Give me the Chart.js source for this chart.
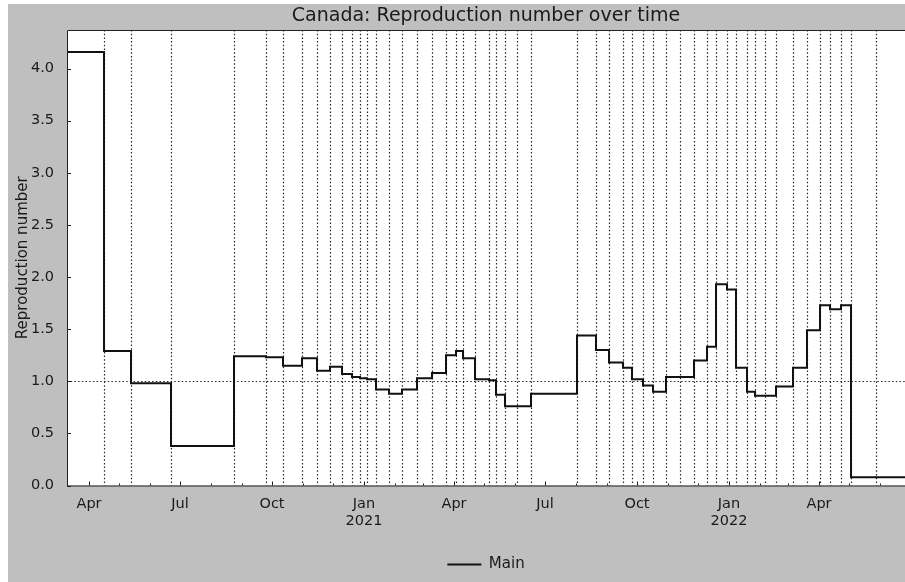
<!DOCTYPE html>
<html>
<head>
<meta charset="utf-8">
<title>Canada: Reproduction number over time</title>
<script src="https://cdn.jsdelivr.net/npm/chart.js@4.4.1/dist/chart.umd.min.js"></script>
<style>
  html, body { margin: 0; padding: 0; background: #ffffff; }
  body { width: 905px; height: 582px; overflow: hidden; position: relative; }
  #wrap { position: absolute; left: 8px; top: 4px; width: 897px; height: 578px; background: #bfbfbf; }
  canvas { display: block; }
</style>
</head>
<body>
<div id="wrap"><canvas id="c" width="897" height="578"></canvas></div>
<script>
// Dates at which the estimated reproduction number changes; each value holds until the next date.
const changeDates = [
  '2020-03-10', '2020-04-16', '2020-05-13', '2020-06-22', '2020-08-24', '2020-09-25',
  '2020-10-12', '2020-10-31', '2020-11-15', '2020-11-28', '2020-12-10', '2020-12-20',
  '2020-12-28', '2021-01-04', '2021-01-13', '2021-01-26', '2021-02-08', '2021-02-23',
  '2021-03-10', '2021-03-24', '2021-04-03', '2021-04-10', '2021-04-22', '2021-05-06',
  '2021-05-13', '2021-05-22', '2021-06-03', '2021-06-17', '2021-08-02', '2021-08-21',
  '2021-09-03', '2021-09-17', '2021-09-26', '2021-10-07', '2021-10-17', '2021-10-30',
  '2021-11-13', '2021-11-27', '2021-12-10', '2021-12-19', '2021-12-30', '2022-01-08',
  '2022-01-19', '2022-01-27', '2022-02-06', '2022-02-17', '2022-03-06', '2022-03-20',
  '2022-04-02', '2022-04-12', '2022-04-23', '2022-05-03', '2022-05-28'
];
const rValues = [
  4.16, 1.29, 0.98, 0.38, 1.24, 1.23,
  1.15, 1.22, 1.10, 1.14, 1.07, 1.04,
  1.03, 1.02, 0.92, 0.88, 0.92, 1.03,
  1.08, 1.25, 1.29, 1.22, 1.02, 1.01,
  0.87, 0.76, 0.76, 0.88, 1.44, 1.30,
  1.18, 1.13, 1.02, 0.96, 0.90, 1.04,
  1.04, 1.20, 1.33, 1.93, 1.88, 1.13,
  0.90, 0.86, 0.86, 0.95, 1.13, 1.49,
  1.73, 1.69, 1.73, 0.08, 0.08
];
const endDate = '2022-06-26';
const thresholdR = 1.0;

// Axis labelling
const monthLabels = ['Jan', '', '', 'Apr', '', '', 'Jul', '', '', 'Oct', '', ''];
const yTicks = [0.0, 0.5, 1.0, 1.5, 2.0, 2.5, 3.0, 3.5, 4.0];
const yMax = 4.37;
const seriesName = 'Main';
const FONT = 'DejaVu Sans';

// Day number (days since 1970-01-01, UTC) for an ISO date string
const toDay = s => Date.UTC(+s.slice(0, 4), +s.slice(5, 7) - 1, +s.slice(8, 10)) / 864e5;
const fromDay = d => new Date(d * 864e5);

const points = changeDates.map((d, i) => ({ x: toDay(d), y: rValues[i] }));
points.push({ x: toDay(endDate), y: rValues[rValues.length - 1] });

// Month starts within the visible range
function monthStarts(min, max) {
  const out = [];
  const s = fromDay(min);
  let y = s.getUTCFullYear(), m = s.getUTCMonth() + 1;
  for (;;) {
    if (m > 11) { m = 0; y++; }
    const v = Date.UTC(y, m, 1) / 864e5;
    if (v > max) break;
    if (v >= min) out.push(v);
    m++;
  }
  return out;
}

const frame = {
  id: 'frame',
  beforeDraw(chart) {
    const { ctx, chartArea: a } = chart;
    ctx.save();
    ctx.fillStyle = '#ffffff';
    ctx.fillRect(a.left, a.top, a.right - a.left, a.bottom - a.top);
    ctx.restore();
  },
  beforeDatasetsDraw(chart) {
    const { ctx, chartArea: a, scales: { x, y } } = chart;
    ctx.save();
    ctx.beginPath();
    ctx.rect(a.left, a.top, a.right - a.left, a.bottom - a.top);
    ctx.clip();
    ctx.strokeStyle = 'rgba(0,0,0,0.85)';
    ctx.lineWidth = 1.2;
    ctx.setLineDash([1.5, 2.2]);
    // change-point markers
    changeDates.slice(1).forEach(d => {
      const px = Math.round(x.getPixelForValue(toDay(d))) + 0.5;
      ctx.beginPath();
      ctx.moveTo(px, a.top);
      ctx.lineTo(px, a.bottom);
      ctx.stroke();
    });
    // R = 1 reference line
    const py = Math.round(y.getPixelForValue(thresholdR)) + 0.5;
    ctx.beginPath();
    ctx.moveTo(a.left, py);
    ctx.lineTo(a.right, py);
    ctx.stroke();
    ctx.restore();
  },
  afterDraw(chart) {
    const { ctx, chartArea: a, scales: { x, y } } = chart;
    ctx.save();
    ctx.strokeStyle = '#222222';
    ctx.lineWidth = 1;
    // axes frame: left, top, bottom
    ctx.beginPath();
    ctx.moveTo(a.right, a.top + 0.5);
    ctx.lineTo(a.left + 0.5, a.top + 0.5);
    ctx.lineTo(a.left + 0.5, a.bottom + 0.5);
    ctx.lineTo(a.right, a.bottom + 0.5);
    ctx.stroke();
    // inward tick marks
    ctx.beginPath();
    x.ticks.forEach(t => {
      const px = Math.round(x.getPixelForValue(t.value)) + 0.5;
      const major = fromDay(t.value).getUTCMonth() % 3 === 0;
      ctx.moveTo(px, a.bottom);
      ctx.lineTo(px, a.bottom - (major ? 4 : 2));
    });
    y.ticks.forEach(t => {
      const py = Math.round(y.getPixelForValue(t.value)) + 0.5;
      ctx.moveTo(a.left, py);
      ctx.lineTo(a.left + 4, py);
    });
    ctx.stroke();
    ctx.restore();
  }
};

new Chart(document.getElementById('c'), {
  type: 'line',
  data: {
    datasets: [{
      label: seriesName,
      data: points,
      stepped: 'before',
      borderColor: '#111111',
      backgroundColor: '#111111',
      borderWidth: 2,
      pointRadius: 0,
      fill: false
    }]
  },
  options: {
    responsive: false,
    animation: false,
    layout: { padding: 0 },
    plugins: {
      title: {
        display: true,
        text: 'Canada: Reproduction number over time',
        fullSize: false,
        color: '#1a1a1a',
        font: { family: FONT, size: 19, weight: 'normal', lineHeight: 1.0 },
        padding: { top: 3, bottom: 4 }
      },
      legend: {
        display: true,
        position: 'bottom',
        fullSize: false,
        labels: {
          usePointStyle: true,
          pointStyle: 'line',
          pointStyleWidth: 34,
          boxHeight: 15,
          padding: 3.5,
          color: '#1a1a1a',
          font: { family: FONT, size: 15 }
        }
      },
      tooltip: { enabled: false }
    },
    scales: {
      x: {
        type: 'linear',
        min: toDay(changeDates[0]),
        max: toDay(endDate),
        grid: { display: false },
        border: { display: false },
        afterBuildTicks: s => { s.ticks = monthStarts(s.min, s.max).map(v => ({ value: v })); },
        afterFit: s => { s.height = 68; },
        ticks: {
          autoSkip: false,
          maxRotation: 0,
          minRotation: 0,
          padding: 2,
          color: '#1a1a1a',
          font: { family: FONT, size: 14.5 },
          callback: v => {
            const d = fromDay(v);
            const m = d.getUTCMonth();
            const lab = monthLabels[m];
            if (!lab) return '';
            return m === 0 ? [lab, String(d.getUTCFullYear())] : lab;
          }
        }
      },
      y: {
        min: 0,
        max: yMax,
        grid: { display: false },
        border: { display: false },
        afterBuildTicks: s => { s.ticks = yTicks.map(v => ({ value: v })); },
        afterFit: s => { s.width = 59; },
        ticks: {
          padding: 5,
          color: '#1a1a1a',
          font: { family: FONT, size: 14.5 },
          callback: v => Number(v).toFixed(1)
        },
        title: {
          display: true,
          text: 'Reproduction number',
          color: '#1a1a1a',
          font: { family: FONT, size: 15 },
          padding: { top: 6, bottom: 0 }
        }
      }
    }
  },
  plugins: [frame]
});
</script>
</body>
</html>
